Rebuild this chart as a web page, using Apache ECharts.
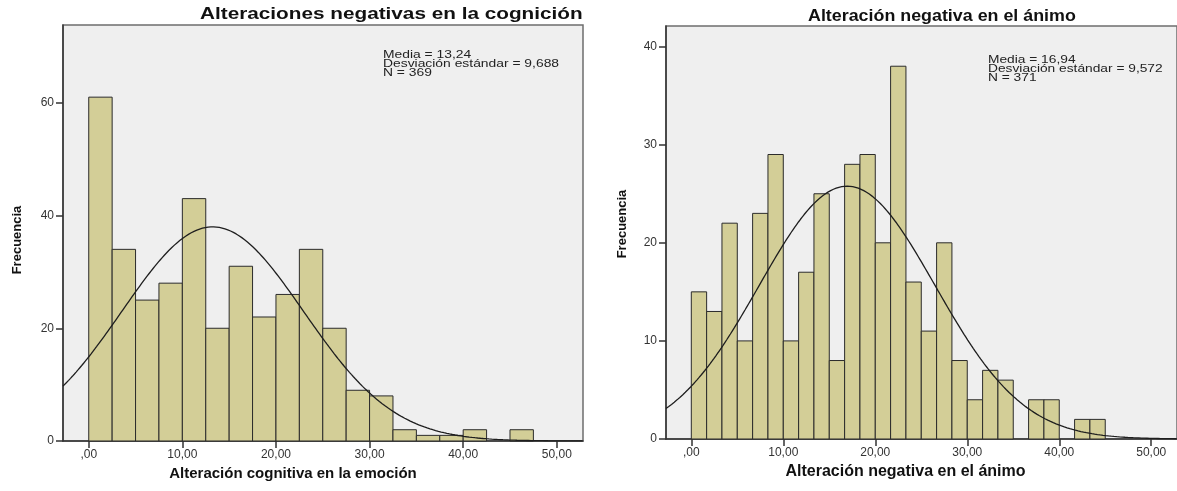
<!DOCTYPE html>
<html>
<head>
<meta charset="utf-8">
<script src="https://cdn.jsdelivr.net/npm/echarts@6/dist/echarts.min.js"></script>
<style>
  html, body { margin: 0; padding: 0; background: #ffffff; }
  #chart { width: 1177px; height: 491px; }
</style>
</head>
<body>
<div id="chart"></div>
<script>
// Histogram counts per bin (left: cognition, right: mood)
const cognCounts = [61, 34, 25, 28, 43, 20, 31, 22, 26, 34, 20, 9, 8, 2, 1, 1, 2, 0, 2];
const animoCounts = [15, 13, 22, 10, 23, 29, 10, 17, 25, 8, 28, 29, 20, 38, 16, 11, 20, 8, 4, 7, 6, 0, 4, 4, 0, 2, 2];
const cognBinWidth = 2.5;
const animoBinWidth = 5 / 3;

// Summary statistics printed in each panel
const cognMean = 13.24, cognSd = 9.688, cognN = 369;
const animoMean = 16.94, animoSd = 9.572, animoN = 371;

// Tick labels
const xTicks = [0, 10, 20, 30, 40, 50];
const cognYTicks = [0, 20, 40, 60];
const animoYTicks = [0, 10, 20, 30, 40];

const titles = ['Alteraciones negativas en la cognición', 'Alteración negativa en el ánimo'];
const xNames = ['Alteración cognitiva en la emoción', 'Alteración negativa en el ánimo'];
const yName = 'Frecuencia';

const FONT = '"Liberation Sans", Arial, sans-serif';
const BAR_FILL = '#d3ce97';
const BAR_EDGE = '#2b2b2b';
const INK = '#111111';

function fmtNum(v, d) {
  return v.toFixed(d).replace('.', ',');
}
function xLabel(v) {
  return v === 0 ? ',00' : fmtNum(v, 2);
}
function statsText(mean, sd, n) {
  return 'Media = ' + fmtNum(mean, 2) + '\nDesviación estándar = ' + fmtNum(sd, 3) + '\nN = ' + n;
}

function binData(counts, w) {
  return counts.map((c, i) => [i * w, (i + 1) * w, c]);
}

// Normal curve scaled to counts: N * binWidth * pdf(x)
function normalCurve(mean, sd, n, w, xmin, xmax) {
  const pts = [];
  const k = n * w / (sd * Math.sqrt(2 * Math.PI));
  for (let x = xmin; x <= xmax + 1e-9; x += 0.1) {
    const z = (x - mean) / sd;
    pts.push([x, k * Math.exp(-0.5 * z * z)]);
  }
  return pts;
}

function renderBin(params, api) {
  const y = api.value(2);
  if (!y) return;
  const p0 = api.coord([api.value(0), y]);
  const p1 = api.coord([api.value(1), 0]);
  return {
    type: 'rect',
    shape: { x: p0[0], y: p0[1], width: p1[0] - p0[0], height: p1[1] - p0[1] },
    style: { fill: BAR_FILL, stroke: BAR_EDGE, lineWidth: 1 }
  };
}

const X_MIN = -2.75, X_MAX = 52.8;
const COGN_YMAX = 73.8, ANIMO_YMAX = 42.1;

function xAxisFor(gridIndex, name, size, shiftPad) {
  return {
    type: 'value', gridIndex: gridIndex, min: X_MIN, max: X_MAX,
    name: name, nameLocation: 'middle', nameGap: 24,
    nameTextStyle: { fontFamily: FONT, fontWeight: 'bold', fontSize: size, color: INK, padding: [0, shiftPad, 0, 0] },
    axisLine: { show: true, onZero: false, lineStyle: { color: '#333', width: 1.5 } },
    axisTick: { show: true, length: 7, customValues: xTicks, lineStyle: { color: '#333', width: 1.5 } },
    axisLabel: { customValues: xTicks, formatter: xLabel, margin: 8, fontFamily: FONT, fontSize: 12, color: '#333' },
    splitLine: { show: false }
  };
}
function yAxisFor(gridIndex, ticks, ymax) {
  return {
    type: 'value', gridIndex: gridIndex, min: 0, max: ymax,
    axisLine: { show: true, onZero: false, lineStyle: { color: '#333', width: 1.5 } },
    axisTick: { show: true, length: 7, customValues: ticks, lineStyle: { color: '#333', width: 1.5 } },
    axisLabel: { customValues: ticks, margin: 9, fontFamily: FONT, fontSize: 12, color: '#333' },
    splitLine: { show: false }
  };
}

function label(text, x, y, size, opts) {
  return Object.assign({
    type: 'text', x: x, y: y, silent: true,
    style: { text: text, fontFamily: FONT, fontWeight: 'bold', fontSize: size, fill: INK, textVerticalAlign: 'top' }
  }, opts || {});
}

const chart = echarts.init(document.getElementById('chart'), null, { renderer: 'canvas' });

chart.setOption({
  animation: false,
  backgroundColor: '#ffffff',
  grid: [
    { left: 63, top: 25, width: 520, height: 416, show: true, backgroundColor: '#efefef', borderColor: '#6e6e6e', borderWidth: 1.5 },
    { left: 666, top: 26, width: 516, height: 413, show: true, backgroundColor: '#efefef', borderColor: '#6e6e6e', borderWidth: 1.5 }
  ],
  xAxis: [
    xAxisFor(0, xNames[0], 15, 60),
    xAxisFor(1, xNames[1], 16, 32)
  ],
  yAxis: [
    yAxisFor(0, cognYTicks, COGN_YMAX),
    yAxisFor(1, animoYTicks, ANIMO_YMAX)
  ],
  graphic: [
    // panel titles
    label(titles[0], 200, 6, 17, { scaleX: 1.22 }),
    label(titles[1], 808, 8, 17, { scaleX: 1.05 }),
    // vertical axis titles
    {
      type: 'text', x: 17, y: 240, rotation: Math.PI / 2, silent: true,
      style: { text: yName, fontFamily: FONT, fontWeight: 'bold', fontSize: 13, fill: INK, align: 'center', verticalAlign: 'middle' }
    },
    {
      type: 'text', x: 622, y: 224, rotation: Math.PI / 2, silent: true,
      style: { text: yName, fontFamily: FONT, fontWeight: 'bold', fontSize: 13, fill: INK, align: 'center', verticalAlign: 'middle' }
    },
    // summary statistics
    {
      type: 'text', x: 383, y: 50.5, scaleX: 1.26, silent: true,
      style: { text: statsText(cognMean, cognSd, cognN), fontFamily: FONT, fontSize: 11, lineHeight: 9, fill: '#222', textVerticalAlign: 'top' }
    },
    {
      type: 'text', x: 988, y: 55.5, scaleX: 1.25, silent: true,
      style: { text: statsText(animoMean, animoSd, animoN), fontFamily: FONT, fontSize: 11, lineHeight: 9, fill: '#222', textVerticalAlign: 'top' }
    }
  ],
  series: [
    {
      type: 'custom', xAxisIndex: 0, yAxisIndex: 0, renderItem: renderBin,
      data: binData(cognCounts, cognBinWidth), encode: { x: [0, 1], y: 2 }
    },
    {
      type: 'line', xAxisIndex: 0, yAxisIndex: 0, showSymbol: false, symbol: 'none',
      data: normalCurve(cognMean, cognSd, cognN, cognBinWidth, X_MIN, X_MAX),
      lineStyle: { color: '#1e1e1e', width: 1.3 }, z: 5
    },
    {
      type: 'custom', xAxisIndex: 1, yAxisIndex: 1, renderItem: renderBin,
      data: binData(animoCounts, animoBinWidth), encode: { x: [0, 1], y: 2 }
    },
    {
      type: 'line', xAxisIndex: 1, yAxisIndex: 1, showSymbol: false, symbol: 'none',
      data: normalCurve(animoMean, animoSd, animoN, animoBinWidth, X_MIN, X_MAX),
      lineStyle: { color: '#1e1e1e', width: 1.3 }, z: 5
    }
  ]
});
</script>
</body>
</html>
